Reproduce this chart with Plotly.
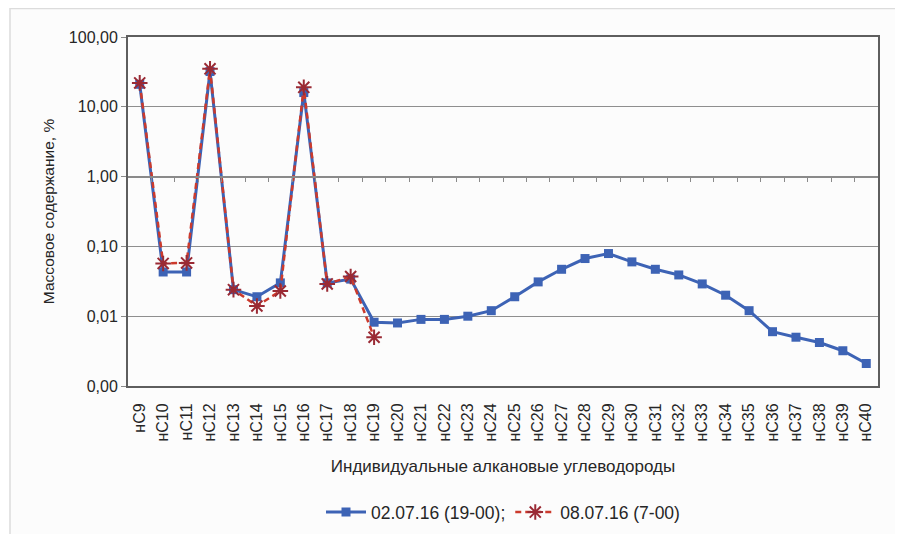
import plotly.graph_objects as go

categories = ["нС9", "нС10", "нС11", "нС12", "нС13", "нС14", "нС15", "нС16", "нС17", "нС18",
              "нС19", "нС20", "нС21", "нС22", "нС23", "нС24", "нС25", "нС26", "нС27", "нС28",
              "нС29", "нС30", "нС31", "нС32", "нС33", "нС34", "нС35", "нС36", "нС37", "нС38",
              "нС39", "нС40"]

series1_name = "02.07.16 (19-00);"
series1 = [21, 0.043, 0.043, 32, 0.024, 0.019, 0.030, 16, 0.030, 0.034,
           0.0082, 0.008, 0.009, 0.009, 0.010, 0.012, 0.019, 0.031, 0.047, 0.067,
           0.079, 0.060, 0.047, 0.039, 0.029, 0.020, 0.012, 0.006, 0.005, 0.0042,
           0.0032, 0.0021]

series2_name = "08.07.16 (7-00)"
series2 = [22, 0.057, 0.058, 35, 0.024, 0.014, 0.023, 19, 0.029, 0.037, 0.005]

ytick_vals = [0.001, 0.01, 0.1, 1, 10, 100]
ytick_text = ["0,00", "0,01", "0,10", "1,00", "10,00", "100,00"]

x_title = "Индивидуальные алкановые углеводороды"
y_title = "Массовое содержание, %"

idx = list(range(len(categories)))
font = "Liberation Sans, Arial, sans-serif"
txt = "#262626"

fig = go.Figure()
fig.add_trace(go.Scatter(
    x=idx, y=series1, name=series1_name, mode="lines+markers",
    line=dict(color="#3d63b5", width=3),
    marker=dict(symbol="square", size=9, color="#3d63b5"),
))
fig.add_trace(go.Scatter(
    x=idx[:len(series2)], y=series2, name=series2_name, mode="lines+markers",
    line=dict(color="#cc3a2c", width=2.5, dash="6px,4px"),
    marker=dict(symbol="asterisk-open", size=13, color="#9a2a34",
                line=dict(color="#9a2a34", width=2)),
))
# dummy trace to bind the crossing category axis at y = 1
fig.add_trace(go.Scatter(
    x=idx, y=[1] * len(idx), mode="none", xaxis="x2", showlegend=False, hoverinfo="skip",
))

fig.update_layout(
    width=903, height=534,
    margin=dict(l=120, r=33, t=29, b=151),
    paper_bgcolor="white", plot_bgcolor="rgba(0,0,0,0)",
    font=dict(family=font, size=14, color=txt),
    showlegend=True,
    legend=dict(orientation="h", x=0.5, y=(383 - 511) / 354, xanchor="center", yanchor="middle",
                font=dict(size=17.5, color=txt), bgcolor="rgba(0,0,0,0)", itemwidth=40),
    xaxis=dict(
        range=[-0.5, len(categories) - 0.5], tickmode="array", tickvals=idx, ticktext=categories,
        tickangle=-90, showgrid=False, zeroline=False, showline=True, linecolor="#5e5e5e",
        linewidth=2, mirror=True, ticks="outside", ticklen=9, tickcolor="rgba(0,0,0,0)",
        tickfont=dict(size=16, color=txt),
        title=dict(text=x_title, font=dict(size=17, color=txt), standoff=20),
        automargin=False,
    ),
    xaxis2=dict(
        overlaying="x", anchor="free", position=0.6, range=[-0.5, len(categories) - 0.5],
        tickmode="array", tickvals=[i + 0.5 for i in idx[:-1]], ticks="outside", ticklen=5,
        tickcolor="#8a8a8a", tickwidth=1.2, showticklabels=False, showgrid=False, zeroline=False,
        showline=True, linecolor="#8a8a8a", linewidth=1.5,
    ),
    yaxis=dict(
        type="log", range=[-3, 2], tickmode="array", tickvals=ytick_vals, ticktext=ytick_text,
        showgrid=True, gridcolor="#8e8e8e", gridwidth=1.3, zeroline=False, showline=True,
        linecolor="#5e5e5e", linewidth=2, mirror=True, ticks="outside", ticklen=5,
        tickcolor="#8a8a8a", tickfont=dict(size=16, color=txt),
        title=dict(text=y_title, font=dict(size=15.5, color=txt), standoff=10),
        automargin=False,
    ),
    shapes=[dict(type="rect", xref="paper", yref="paper",
                 x0=(10 - 128) / 750, x1=(898 - 128) / 750,
                 y0=(391 - 560) / 354, y1=(391 - 8) / 354,
                 line=dict(color="#dcdcdc", width=1.5), fillcolor="#fcfcfc", layer="below")],
)

fig.write_html("out.html")
